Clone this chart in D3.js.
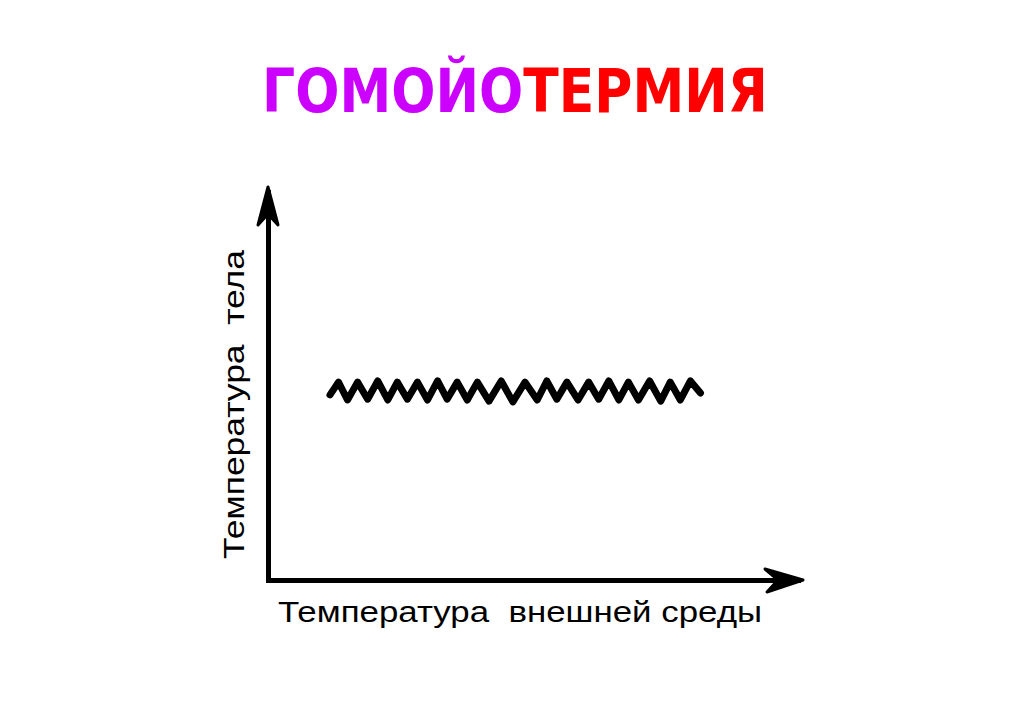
<!DOCTYPE html>
<html>
<head>
<meta charset="utf-8">
<script src="https://cdn.jsdelivr.net/npm/d3@7"></script>
<style>
  html, body { margin: 0; padding: 0; background: #fff; }
  svg { display: block; }
  text { white-space: pre; }
</style>
</head>
<body>
<svg id="chart" width="1024" height="709"></svg>
<script>
// ---- data ----
const titleParts = ["ГОМОЙО", "ТЕРМИЯ"];
const titleColors = ["#CC00FF", "#FF0000"];
const xLabel = "Температура  внешней среды";
const yLabel = "Температура  тела";
const zigX = [11.7,13.3,15.0,16.9,18.8,20.7,22.6,24.4,26.3,28.2,30.1,32.0,33.8,35.7,37.6,39.5,41.7,44.0,46.2,48.5,50.8,52.6,54.5,56.4,58.5,60.5,62.4,64.3,66.2,68.0,69.9,72.0,74.1,75.9,77.8,79.7,81.6];
const zigY = [47.7,51.0,46.4,51.0,46.6,51.3,46.4,51.0,46.6,51.0,46.4,51.3,46.6,51.0,46.4,51.0,46.1,51.3,45.9,51.0,46.4,51.3,46.6,51.0,46.4,51.0,46.6,51.3,46.4,51.0,46.4,51.3,46.1,51.0,46.4,51.3,48.2];

// ---- drawing ----
const svg = d3.select("#chart");
svg.append("rect").attr("width", 1024).attr("height", 709).attr("fill", "#fff");

const x = d3.scaleLinear().domain([0, 100]).range([268, 798]);
const y = d3.scaleLinear().domain([0, 100]).range([580, 192]);

// title (single text, two coloured tspans, squeezed horizontally to fit)
const titleWidth = 506;
const title = svg.append("text")
  .attr("x", 0)
  .attr("y", 0)
  .attr("font-family", "DejaVu Sans")
  .attr("font-weight", "bold")
  .attr("font-size", 60);
titleParts.forEach((t, i) => {
  title.append("tspan").attr("fill", titleColors[i]).text(t);
});
const natural = title.node().getComputedTextLength();
title.attr("transform", `translate(262,112) scale(${titleWidth / natural},1)`);

// axes
const gx = svg.append("g").attr("transform", `translate(0,${y(0)})`)
  .call(d3.axisBottom(x).ticks(0).tickSizeOuter(0));
const gy = svg.append("g").attr("transform", `translate(${x(0)},0)`)
  .call(d3.axisLeft(y).ticks(0).tickSizeOuter(0));
[gx, gy].forEach(g => g.select(".domain")
  .attr("stroke", "#000").attr("stroke-width", 5).attr("stroke-linecap", "square"));

// arrowheads
const xe = x.range()[1], y0 = y(0);
svg.append("path")
  .attr("d", `M${xe + 5},${y0} L${xe - 33},${y0 - 11} L${xe - 20},${y0} L${xe - 31},${y0 + 12} Z`)
  .attr("fill", "#000").attr("stroke", "#000").attr("stroke-width", 3).attr("stroke-linejoin", "round");
const ye = y.range()[1], x0 = x(0);
svg.append("path")
  .attr("d", `M${x0},${ye - 5} L${x0 - 10},${ye + 33} L${x0},${ye + 22} L${x0 + 10},${ye + 33} Z`)
  .attr("fill", "#000").attr("stroke", "#000").attr("stroke-width", 3).attr("stroke-linejoin", "round");

// zigzag line
const pts = zigX.map((v, i) => [v, zigY[i]]);
svg.append("path")
  .datum(pts)
  .attr("d", d3.line().x(d => x(d[0])).y(d => y(d[1])))
  .attr("fill", "none")
  .attr("stroke", "#000")
  .attr("stroke-width", 7)
  .attr("stroke-linejoin", "round")
  .attr("stroke-linecap", "round");

// axis labels
svg.append("text")
  .attr("x", 278).attr("y", 622)
  .attr("textLength", 484).attr("lengthAdjust", "spacingAndGlyphs")
  .attr("font-family", "Liberation Sans").attr("font-size", 30)
  .attr("fill", "#000")
  .text(xLabel);

svg.append("text")
  .attr("transform", `translate(244,559) rotate(-90)`)
  .attr("textLength", 309).attr("lengthAdjust", "spacingAndGlyphs")
  .attr("font-family", "Liberation Sans").attr("font-size", 30)
  .attr("fill", "#000")
  .text(yLabel);
</script>
</body>
</html>
